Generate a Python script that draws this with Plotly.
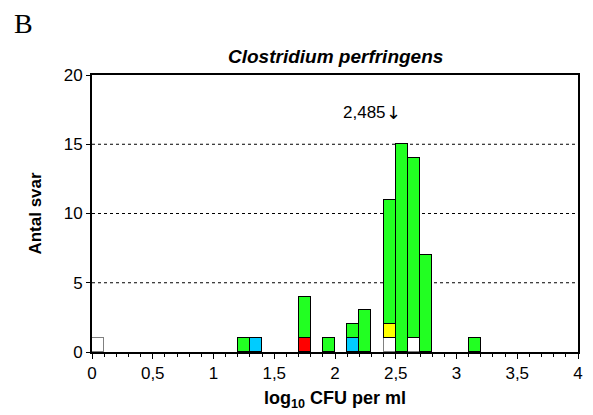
import plotly.graph_objects as go

bin_start = [0.0, 1.2, 1.3, 1.7, 1.9, 2.1, 2.2, 2.4, 2.5, 2.6, 2.7, 3.1]
white = [1, 0, 0, 0, 0, 0, 0, 1, 0, 1, 0, 0]
red = [0, 0, 0, 1, 0, 0, 0, 0, 0, 0, 0, 0]
blue = [0, 0, 1, 0, 0, 1, 0, 0, 0, 0, 0, 0]
yellow = [0, 0, 0, 0, 0, 0, 0, 1, 0, 0, 0, 0]
green = [0, 1, 0, 3, 1, 1, 3, 9, 15, 13, 7, 1]

xtick_vals = [0, 0.5, 1, 1.5, 2, 2.5, 3, 3.5, 4]
xtick_text = ["0", "0,5", "1", "1,5", "2", "2,5", "3", "3,5", "4"]
ytick_vals = [0, 5, 10, 15, 20]
median_value = 2.485
median_label = "2,485"

bw = 0.1

fig = go.Figure()
series = [("white", white, "#ffffff", "#808080"),
          ("red", red, "#ff0000", "#000000"),
          ("blue", blue, "#00ccff", "#000000"),
          ("yellow", yellow, "#ffff00", "#000000"),
          ("green", green, "#22ff22", "#000000")]
for name, vals, col, lc in series:
    xs = [b + bw / 2 for b, v in zip(bin_start, vals) if v > 0]
    ys = [v for v in vals if v > 0]
    fig.add_trace(go.Bar(x=xs, y=ys, width=bw, name=name,
                         marker=dict(color=col, line=dict(color=lc, width=1)),
                         showlegend=False))

for g in [5, 10, 15]:
    fig.add_shape(type="line", x0=0, x1=4, y0=g, y1=g, xref="x", yref="y",
                  line=dict(color="black", width=1, dash="3px,3px"), layer="below")

fig.add_annotation(x=median_value, y=17.3, text="↓", showarrow=False,
                   xanchor="center", font=dict(family="DejaVu Sans", size=18, color="black"))
fig.add_annotation(x=median_value, y=17.3, text=median_label, showarrow=False,
                   xanchor="right", xshift=-6, font=dict(size=17, color="black"))

fig.add_annotation(xref="paper", yref="paper", x=0.5, y=1.0, yshift=6,
                   text="<b><i>Clostridium perfringens</i></b>", showarrow=False,
                   yanchor="bottom", font=dict(size=19, color="black"))
fig.add_annotation(xref="paper", yref="paper", x=-0.165, y=1.0, yshift=34,
                   text="B", showarrow=False, xanchor="left", yanchor="bottom",
                   font=dict(family="Liberation Serif", size=28, color="black"))

fig.update_layout(
    width=593, height=415,
    margin=dict(l=92, r=10, t=75, b=62),
    paper_bgcolor="white", plot_bgcolor="white",
    barmode="stack", bargap=0,
    font=dict(family="Liberation Sans, Arial", size=17, color="black"),
    xaxis=dict(range=[0, 4], tickvals=xtick_vals, ticktext=xtick_text,
               ticks="outside", ticklen=5, tickcolor="black", tickwidth=1,
               minor=dict(dtick=0.1, ticks="outside", ticklen=3, tickcolor="black"),
               showline=True, linecolor="black", linewidth=2, mirror=True,
               showgrid=False, zeroline=False, tickfont=dict(size=17),
               title=dict(text="<b>log<sub>10</sub> CFU per ml</b>", font=dict(size=18), standoff=9)),
    yaxis=dict(range=[0, 20], tickvals=ytick_vals,
               ticks="outside", ticklen=4, tickcolor="black",
               showline=True, linecolor="black", linewidth=2, mirror=True,
               showgrid=False, zeroline=False, tickfont=dict(size=17),
               title=dict(text="<b>Antal svar</b>", font=dict(size=17), standoff=18)),
)

fig.write_html("out.html")
